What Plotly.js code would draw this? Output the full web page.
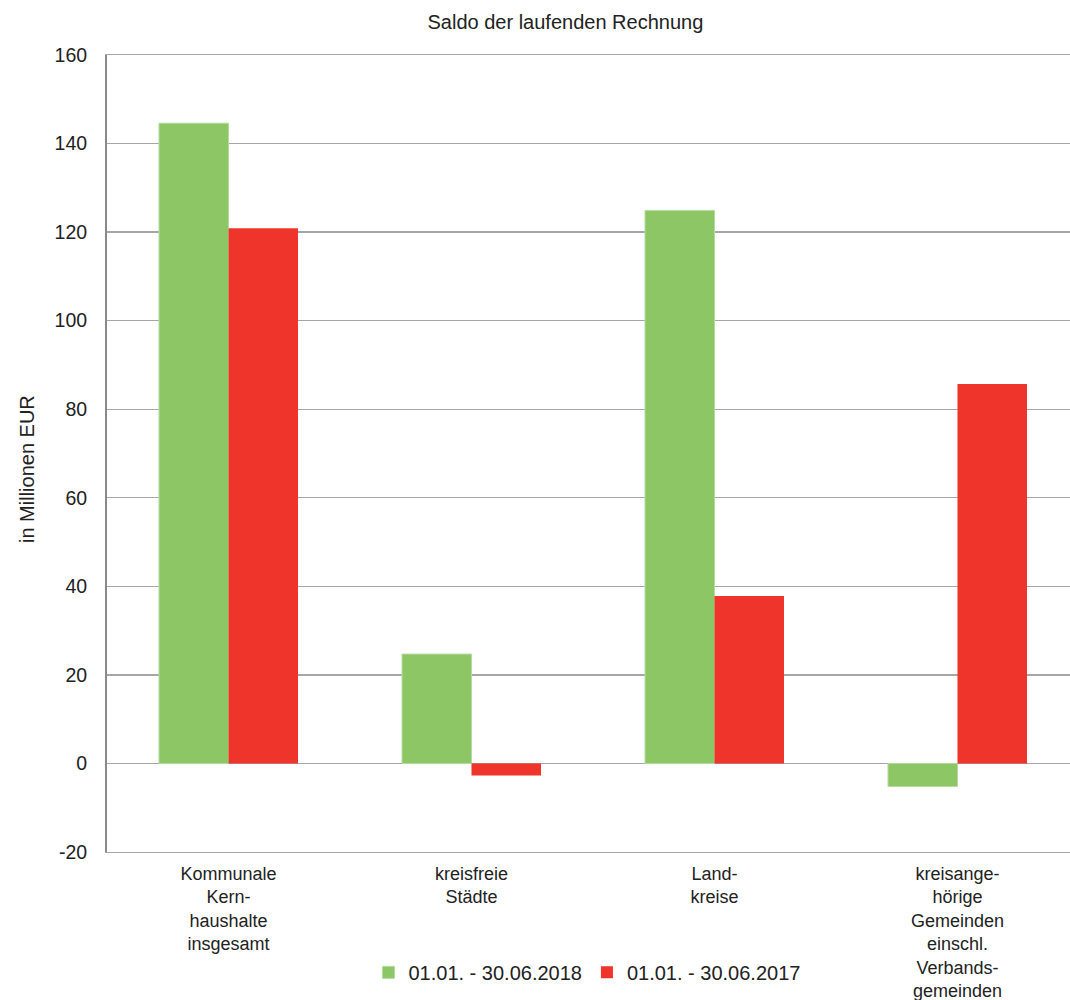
<!DOCTYPE html>
<html>
<head>
<meta charset="utf-8">
<script src="https://cdn.plot.ly/plotly-3.0.1.min.js"></script>
<style>html,body{margin:0;padding:0;background:#fff;}#chart{width:1070px;height:1000px;}</style>
</head>
<body>
<div id="chart"></div>
<script>
const categories = [
  "Kommunale<br>Kern-<br>haushalte<br>insgesamt",
  "kreisfreie<br>Städte",
  "Land-<br>kreise",
  "kreisange-<br>hörige<br>Gemeinden<br>einschl.<br>Verbands-<br>gemeinden"
];
const series2018 = [144.6, 24.7, 124.9, -5.2];
const series2017 = [120.9, -2.7, 37.8, 85.7];
const seriesNames = ["01.01. - 30.06.2018", "01.01. - 30.06.2017"];
const yTicks = [-20, 0, 20, 40, 60, 80, 100, 120, 140, 160];

const fam = "Liberation Sans, Arial, sans-serif";
const col = "#222";

const traces = [
  {type: "bar", x: categories, y: series2018, name: seriesNames[0],
   marker: {color: "#8CC665", line: {color: "#B5DCA0", width: 1}}},
  {type: "bar", x: categories, y: series2017, name: seriesNames[1],
   marker: {color: "#EE342B", line: {color: "#EE342B", width: 0}}}
];

const layout = {
  width: 1070, height: 1000,
  margin: {l: 107, r: 0, t: 55, b: 148},
  paper_bgcolor: "#fff", plot_bgcolor: "#fff",
  font: {family: fam, size: 19, color: col},
  title: {text: "Saldo der laufenden Rechnung", font: {family: fam, size: 20, color: col},
          x: 0.476, xanchor: "center", xref: "paper", y: 0.978, yanchor: "middle", yref: "container"},
  barmode: "group", bargap: 0.428, bargroupgap: 0,
  xaxis: {type: "category", range: [-0.5, 3.463], showgrid: false, zeroline: false,
          showline: true, linecolor: "#A6A6A6", linewidth: 1.3, mirror: true,
          ticks: "", tickfont: {family: fam, size: 18, color: col},
          ticklabelstandoff: 5, fixedrange: true},
  yaxis: {range: [-20, 160], tickvals: yTicks, ticktext: yTicks.map(String),
          showgrid: true, gridcolor: "#A6A6A6", gridwidth: 1.3,
          zeroline: true, zerolinecolor: "#A6A6A6", zerolinewidth: 1.3,
          showline: true, linecolor: "#8A8A8A", linewidth: 2, ticks: "", ticklen: 0,
          tickfont: {family: fam, size: 19.5, color: col}, ticklabelstandoff: 14},
  annotations: [{text: "in Millionen EUR", xref: "paper", yref: "paper", x: -0.083, y: 0.4806,
                 xanchor: "center", yanchor: "middle", textangle: -90, showarrow: false,
                 font: {family: fam, size: 20, color: col}}],
  showlegend: true,
  legend: {orientation: "h", x: 0.2715, xanchor: "left", y: -0.151, yanchor: "middle",
           font: {family: fam, size: 20, color: col}, bgcolor: "rgba(0,0,0,0)", itemwidth: 30, tracegroupgap: 0}
};

Plotly.newPlot("chart", traces, layout, {displayModeBar: false, staticPlot: true});
</script>
</body>
</html>
